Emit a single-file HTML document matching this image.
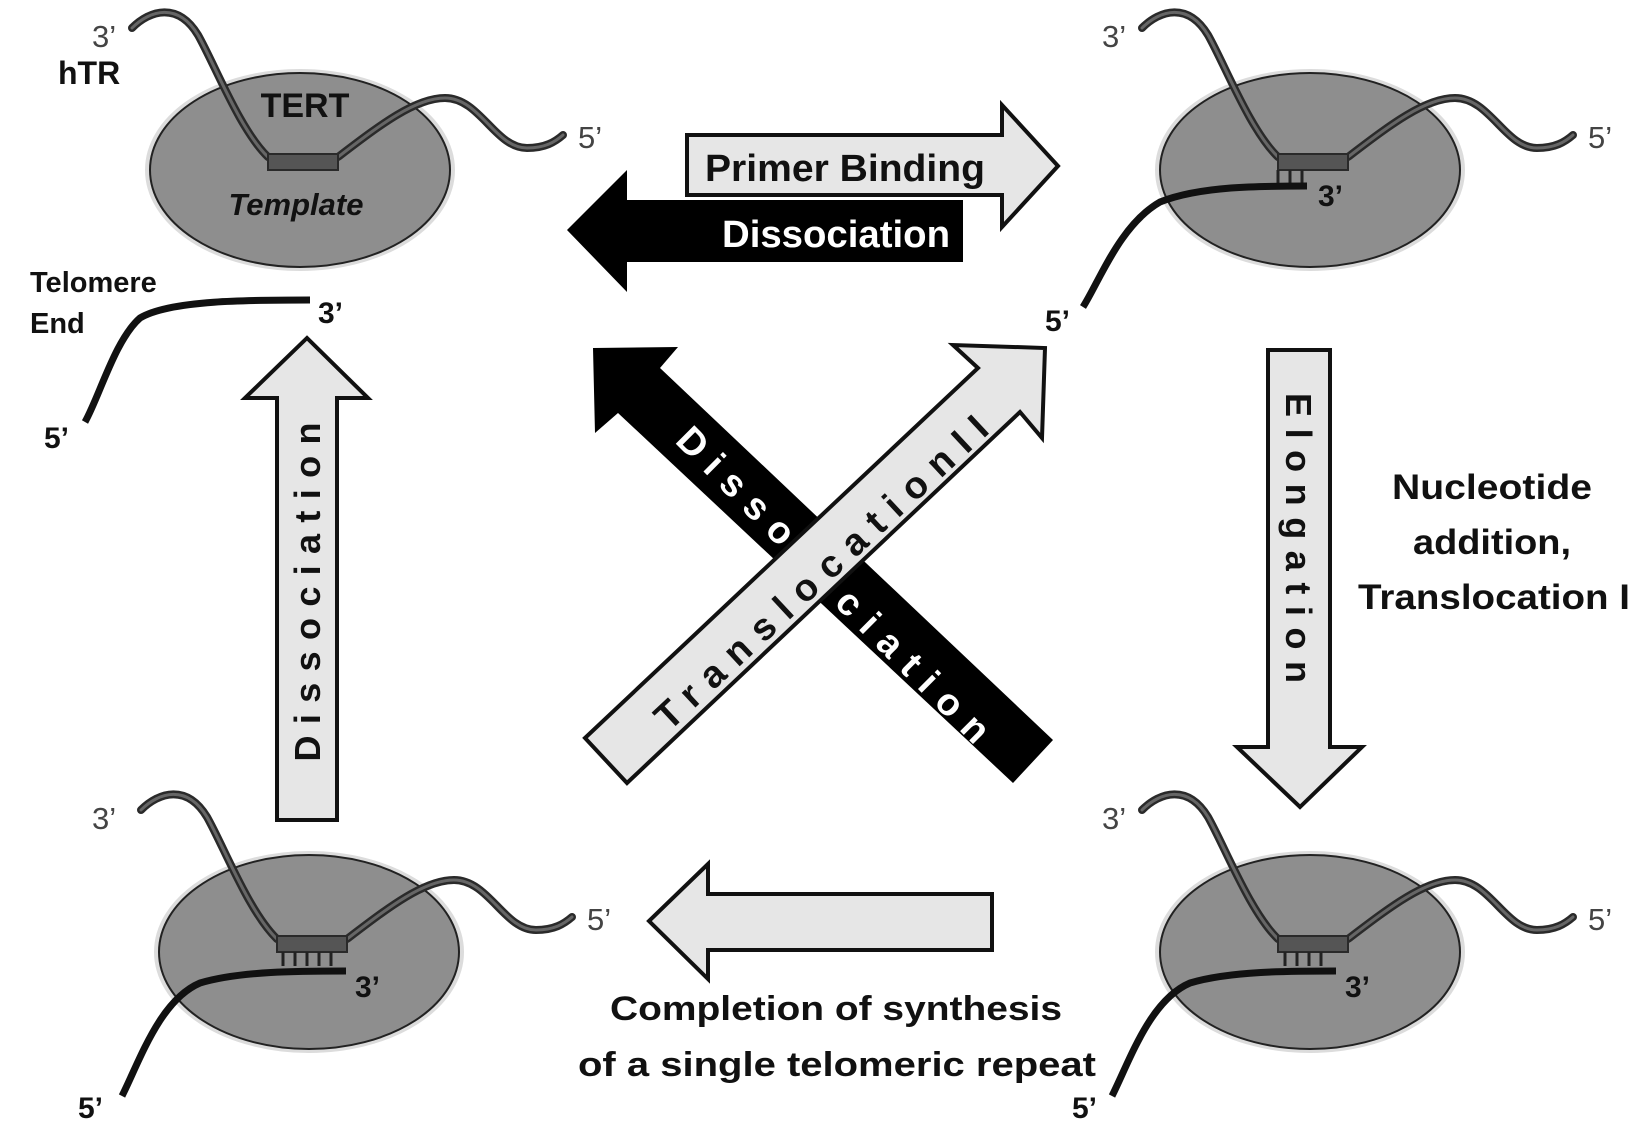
<!DOCTYPE html>
<html><head><meta charset="utf-8"><style>
html,body{margin:0;padding:0;background:#fff;}
svg{display:block;}
text{font-family:"Liberation Sans",sans-serif;}
</style></head><body>
<svg width="1652" height="1124" viewBox="0 0 1652 1124" xmlns="http://www.w3.org/2000/svg">
<defs>
<g id="cx">
  <ellipse cx="0" cy="0" rx="152" ry="98" fill="none" stroke="#dcdcdc" stroke-width="6"/>
  <ellipse cx="0" cy="0" rx="150" ry="97" fill="#8e8e8e" stroke="#222" stroke-width="2"/>
  <path d="M-168,-142 C-150,-160 -122,-168 -102,-135 C-85,-105 -60,-40 -32,-13" fill="none" stroke="#2a2a2a" stroke-width="8" stroke-linecap="round"/>
  <path d="M-168,-142 C-150,-160 -122,-168 -102,-135 C-85,-105 -60,-40 -32,-13" fill="none" stroke="#666" stroke-width="3" stroke-linecap="round"/>
  <path d="M38,-13 C80,-45 115,-72 145,-72 C180,-72 195,-22 227,-22 C245,-22 255,-28 263,-35" fill="none" stroke="#2a2a2a" stroke-width="8" stroke-linecap="round"/>
  <path d="M38,-13 C80,-45 115,-72 145,-72 C180,-72 195,-22 227,-22 C245,-22 255,-28 263,-35" fill="none" stroke="#666" stroke-width="3" stroke-linecap="round"/>
  <rect x="-32" y="-16" width="70" height="16" fill="#555" stroke="#2a2a2a" stroke-width="2"/>
</g>
</defs>

<use href="#cx" x="300" y="170"/>
<use href="#cx" x="1310" y="170"/>
<use href="#cx" x="309" y="952"/>
<use href="#cx" x="1310" y="952"/>

<text x="305" y="117" font-size="34" font-weight="bold" text-anchor="middle" fill="#111">TERT</text>
<text x="296" y="215" font-size="31" font-weight="bold" font-style="italic" text-anchor="middle" fill="#111">Template</text>
<text x="92" y="47" font-size="31" fill="#444">3’</text>
<text x="58" y="84" font-size="32" font-weight="bold" fill="#111">hTR</text>
<text x="578" y="148" font-size="31" fill="#444">5’</text>
<text x="30" y="292" font-size="29" font-weight="bold" fill="#111">Telomere</text>
<text x="30" y="333" font-size="29" font-weight="bold" fill="#111">End</text>
<path d="M85,422 C100,395 115,340 140,318 C170,300 250,300 310,300" fill="none" stroke="#111" stroke-width="7"/>
<text x="318" y="323" font-size="30" font-weight="bold" fill="#111">3’</text>
<text x="44" y="448" font-size="30" font-weight="bold" fill="#111">5’</text>

<text x="1102" y="47" font-size="31" fill="#444">3’</text>
<text x="1588" y="148" font-size="31" fill="#444">5’</text>
<line x1="1278" y1="170" x2="1278" y2="183" stroke="#222" stroke-width="3"/>
<line x1="1290" y1="170" x2="1290" y2="183" stroke="#222" stroke-width="3"/>
<line x1="1302" y1="170" x2="1302" y2="183" stroke="#222" stroke-width="3"/>
<path d="M1083,307 C1100,280 1120,225 1160,202 C1200,186 1260,186 1307,186" fill="none" stroke="#111" stroke-width="7"/>
<text x="1318" y="206" font-size="30" font-weight="bold" fill="#111">3’</text>
<text x="1045" y="331" font-size="30" font-weight="bold" fill="#111">5’</text>

<text x="92" y="829" font-size="31" fill="#444">3’</text>
<text x="587" y="930" font-size="31" fill="#444">5’</text>
<g stroke="#222" stroke-width="3">
<line x1="283" y1="952" x2="283" y2="966"/><line x1="295" y1="952" x2="295" y2="966"/><line x1="307" y1="952" x2="307" y2="966"/><line x1="319" y1="952" x2="319" y2="966"/><line x1="331" y1="952" x2="331" y2="966"/>
</g>
<path d="M122,1096 C140,1060 160,1000 200,983 C240,971 300,971 346,971" fill="none" stroke="#111" stroke-width="7"/>
<text x="355" y="997" font-size="30" font-weight="bold" fill="#111">3’</text>
<text x="78" y="1118" font-size="30" font-weight="bold" fill="#111">5’</text>

<text x="1102" y="829" font-size="31" fill="#444">3’</text>
<text x="1588" y="930" font-size="31" fill="#444">5’</text>
<g stroke="#222" stroke-width="3">
<line x1="1285" y1="952" x2="1285" y2="966"/><line x1="1297" y1="952" x2="1297" y2="966"/><line x1="1309" y1="952" x2="1309" y2="966"/><line x1="1321" y1="952" x2="1321" y2="966"/>
</g>
<path d="M1112,1096 C1130,1060 1150,1000 1190,983 C1230,971 1290,971 1336,971" fill="none" stroke="#111" stroke-width="7"/>
<text x="1345" y="997" font-size="30" font-weight="bold" fill="#111">3’</text>
<text x="1072" y="1118" font-size="30" font-weight="bold" fill="#111">5’</text>

<polygon points="687,135 1002,135 1002,105 1058,166 1002,227 1002,195 687,195" fill="#e6e6e6" stroke="#111" stroke-width="4"/>
<text x="705" y="181" font-size="38" font-weight="bold" fill="#111" textLength="280" lengthAdjust="spacingAndGlyphs">Primer Binding</text>
<polygon points="567,230 627,170 627,200 963,200 963,262 627,262 627,292" fill="#000"/>
<text x="722" y="247" font-size="38" font-weight="bold" fill="#fff" textLength="228" lengthAdjust="spacingAndGlyphs">Dissociation</text>

<polygon points="277,820 277,398 245,398 307,338 368,398 337,398 337,820" fill="#e6e6e6" stroke="#111" stroke-width="4"/>
<text transform="translate(320,592) rotate(-90)" x="0" y="0" font-size="36" font-weight="bold" fill="#111" text-anchor="middle" textLength="339" lengthAdjust="spacing">Dissociation</text>

<polygon points="1268,350 1330,350 1330,747 1362,747 1300,807 1237,747 1268,747" fill="#e6e6e6" stroke="#111" stroke-width="4"/>
<text transform="translate(1286,538) rotate(90)" x="0" y="0" font-size="36" font-weight="bold" fill="#111" text-anchor="middle" textLength="290" lengthAdjust="spacing">Elongation</text>
<text x="1492" y="499" font-size="35" font-weight="bold" fill="#111" text-anchor="middle" textLength="200" lengthAdjust="spacingAndGlyphs">Nucleotide</text>
<text x="1492" y="554" font-size="35" font-weight="bold" fill="#111" text-anchor="middle" textLength="158" lengthAdjust="spacingAndGlyphs">addition,</text>
<text x="1494" y="609" font-size="35" font-weight="bold" fill="#111" text-anchor="middle" textLength="272" lengthAdjust="spacingAndGlyphs">Translocation I</text>

<polygon points="992,894 708,894 708,864 649,921 708,979 708,950 992,950" fill="#e6e6e6" stroke="#111" stroke-width="4"/>
<text x="836" y="1020" font-size="34" font-weight="bold" fill="#111" text-anchor="middle" textLength="452" lengthAdjust="spacingAndGlyphs">Completion of synthesis</text>
<text x="837" y="1076" font-size="34" font-weight="bold" fill="#111" text-anchor="middle" textLength="518" lengthAdjust="spacingAndGlyphs">of a single telomeric repeat</text>

<polygon points="593,348 678,347 660,368 1053,740 1013,783 618,413 595,433" fill="#000"/>
<text transform="translate(727,495) rotate(45)" x="0" y="0" font-size="38" font-weight="bold" fill="#fff" text-anchor="middle" textLength="150" lengthAdjust="spacing">Disso</text>
<text transform="translate(904,675) rotate(45)" x="0" y="0" font-size="38" font-weight="bold" fill="#fff" text-anchor="middle" textLength="200" lengthAdjust="spacing">ciation</text>

<polygon points="585,738 978,368 953,345 1045,348 1042,438 1020,412 627,783" fill="#e6e6e6" stroke="#111" stroke-width="4"/>
<text transform="translate(830,582) rotate(-43)" x="0" y="0" font-size="38" font-weight="bold" fill="#111" text-anchor="middle" textLength="440" lengthAdjust="spacing">TranslocationII</text>
</svg>
</body></html>
